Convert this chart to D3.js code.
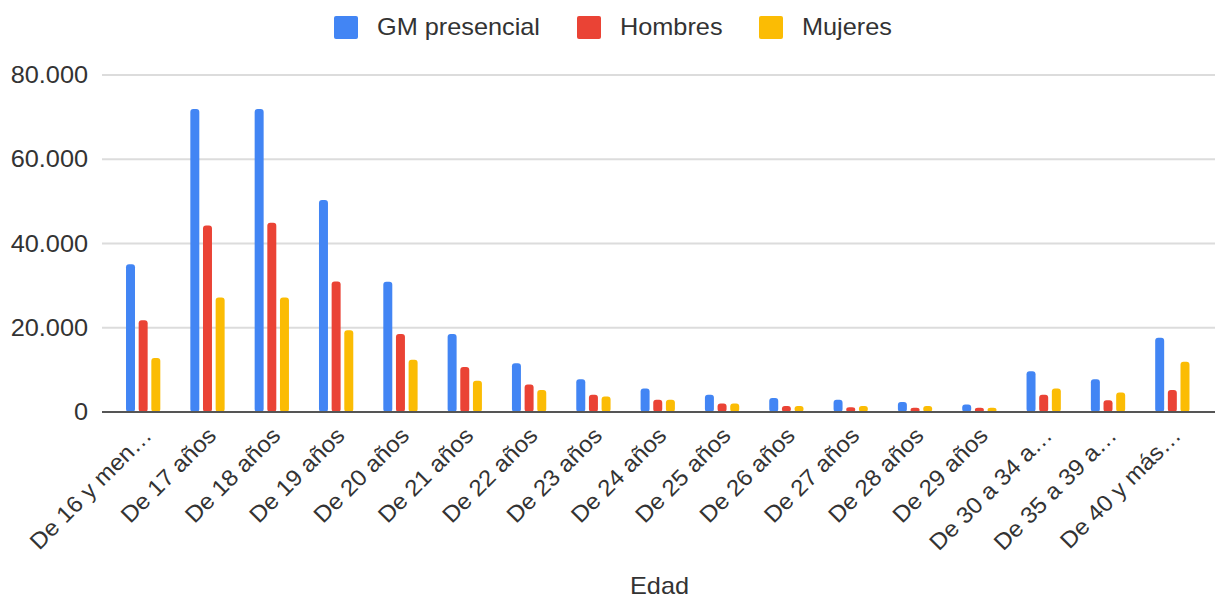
<!DOCTYPE html>
<html>
<head>
<meta charset="utf-8">
<script src="https://cdn.jsdelivr.net/npm/d3@7"></script>
<style>
html,body{margin:0;padding:0;background:#fff;}
svg{display:block;font-family:"Liberation Sans",Arial,sans-serif;}
</style>
</head>
<body>
<svg id="chart" width="1215" height="599"></svg>
<script>
const categories = ["De 16 y men…","De 17 años","De 18 años","De 19 años","De 20 años","De 21 años","De 22 años","De 23 años","De 24 años","De 25 años","De 26 años","De 27 años","De 28 años","De 29 años","De 30 a 34 a…","De 35 a 39 a…","De 40 y más…"];
const seriesNames = ["GM presencial","Hombres","Mujeres"];
const gmPresencial = [35100,71900,71900,50300,30900,18500,11600,7800,5600,4100,3300,2900,2400,1800,9700,7800,17600];
const hombres = [21800,44300,44900,31000,18500,10700,6500,4100,2900,2000,1400,1100,1000,1000,4100,2800,5200];
const mujeres = [12800,27200,27200,19400,12400,7400,5200,3700,2900,2000,1400,1400,1400,1000,5600,4600,11900];
const yTicks = [0,20000,40000,60000,80000];
const xTitle = "Edad";

const colors = ["#4285F4","#EA4335","#FBBC04"];
const seriesValues = [gmPresencial, hombres, mujeres];

const svg = d3.select("#chart");
const locale = d3.formatLocale({decimal:",", thousands:".", grouping:[3], currency:["","€"]});
const fmt = locale.format(",d");

const x0 = d3.scaleBand().domain(categories).range([111, 1204.5]).paddingInner(0).paddingOuter(0);
const x1 = d3.scaleBand().domain(seriesNames).range([-17.15, 17.15]).paddingInner(0.29).paddingOuter(0);
const y = d3.scaleLinear().domain([0, 80000]).range([412, 75]);

const FS = 23, SX = 1.1, TXT = "#333";

// gridlines
svg.append("g").selectAll("line").data(yTicks.filter(d => d !== 0)).join("line")
  .attr("x1", 102).attr("x2", 1215)
  .attr("y1", d => y(d)).attr("y2", d => y(d))
  .attr("stroke", "#dcdcdc").attr("stroke-width", 2);

// y labels
svg.append("g").selectAll("text").data(yTicks).join("text")
  .attr("transform", d => `translate(88,${y(d)}) scale(${SX},1)`)
  .attr("text-anchor", "end").attr("dy", "0.35em")
  .attr("font-size", FS).attr("fill", TXT)
  .text(d => fmt(d));

// bars
const groups = svg.append("g").selectAll("g").data(categories).join("g")
  .attr("transform", d => `translate(${x0(d) + x0.bandwidth()/2},0)`);
groups.selectAll("rect").data((d, i) => seriesNames.map((s, j) => ({s, j, v: seriesValues[j][i]}))).join("rect")
  .attr("x", d => x1(d.s))
  .attr("width", x1.bandwidth())
  .attr("y", d => y(d.v))
  .attr("height", d => y(0) - y(d.v))
  .attr("rx", 3)
  .attr("fill", d => colors[d.j]);

// baseline
svg.append("line").attr("x1", 102).attr("x2", 1215).attr("y1", y(0)).attr("y2", y(0))
  .attr("stroke", "#555").attr("stroke-width", 2);

// x labels
svg.append("g").selectAll("text").data(categories).join("text")
  .attr("transform", d => `translate(${x0(d) + x0.bandwidth()/2 + 10},437) rotate(-45) scale(1.05,1)`)
  .attr("text-anchor", "end")
  .attr("font-size", FS).attr("fill", TXT)
  .text(d => d);

// x title
svg.append("text")
  .attr("transform", `translate(659.5,594) scale(${SX},1)`)
  .attr("text-anchor", "middle")
  .attr("font-size", FS).attr("fill", TXT)
  .text(xTitle);

// legend
const legendX = [334, 577, 759];
const lg = svg.append("g").selectAll("g").data(seriesNames).join("g")
  .attr("transform", (d, i) => `translate(${legendX[i]},16)`);
lg.append("rect").attr("width", 24).attr("height", 23).attr("rx", 2).attr("fill", (d, i) => colors[i]);
lg.append("text")
  .attr("transform", `translate(43,19) scale(${SX},1)`)
  .attr("font-size", FS).attr("fill", TXT)
  .text(d => d);
</script>
</body>
</html>
